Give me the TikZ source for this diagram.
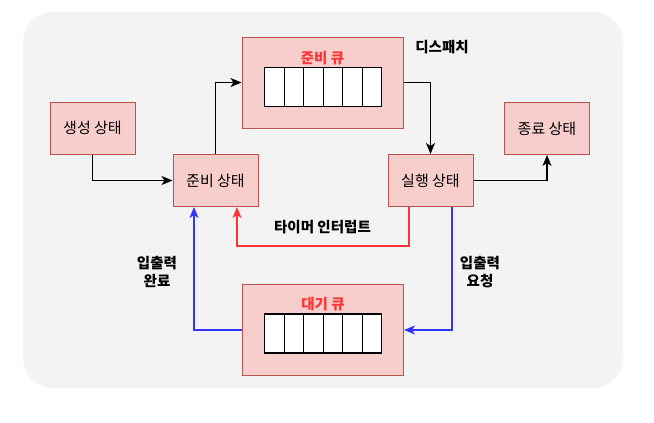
\documentclass[tikz,border=0pt]{standalone}
\usepackage{fontspec}
\newfontfamily\kr{Noto Sans CJK KR}
\usetikzlibrary{arrows.meta}
\definecolor{boxfill}{HTML}{F8CECC}
\definecolor{boxline}{HTML}{B85450}
\definecolor{redtxt}{HTML}{FF3333}
\definecolor{bluel}{HTML}{3333FF}
\definecolor{bgc}{HTML}{F3F3F3}
\begin{document}
\begin{tikzpicture}[x=1pt,y=-1pt,
  state/.style={draw=boxline, fill=boxfill, line width=1pt, minimum width=85pt, minimum height=52pt, inner sep=0pt, font=\kr\fontsize{15}{17}\selectfont},
  qbox/.style={draw=boxline, fill=boxfill, line width=1pt, minimum width=161pt, minimum height=91pt, inner sep=0pt},
  qlabel/.style={text=redtxt, font=\kr\bfseries\fontsize{14.5}{16}\selectfont, inner sep=0pt},
  cell/.style={draw=black, fill=white, line width=1.2pt, minimum width=19.5pt, minimum height=39pt, inner sep=0pt, anchor=west},
  blab/.style={font=\kr\bfseries\fontsize{14.5}{17.5}\selectfont, align=center, inner sep=0pt},
  conn/.style={line width=1.3pt, -{Stealth[length=11pt,width=9pt,inset=3pt]}},
]
\useasboundingbox (0,0) rectangle (654,423);
\fill[bgc, rounded corners=30pt] (23,12) rectangle (623,388);

% queues
\node[qbox] (rq) at (322.5,82.5) {};
\node[qlabel] (rql) at (322.5,58) {준비 큐};
\foreach \i in {0,...,5} { \node[cell] (rc\i) at ({264+19.5*\i},87) {}; }
\node[qbox] (wq) at (323,330) {};
\node[qlabel] (wql) at (323,304) {대기 큐};
\foreach \i in {0,...,5} { \node[cell] (wc\i) at ({264+19.5*\i},333.5) {}; }

% states
\node[state] (gen) at (92.5,128) {생성 상태};
\node[state] (ready) at (215.5,180.5) {준비 상태};
\node[state] (run) at (430.5,180.5) {실행 상태};
\node[state] (term) at (547,128.5) {종료 상태};

% labels
\node[blab] (disp) at (442,47) {디스패치};
\node[blab] (timer) at (322.5,227) {타이머 인터럽트};
\node[blab] (iodone) at (157,272) {입출력\\완료};
\node[blab] (ioreq) at (480,272) {입출력\\요청};

% connectors
\draw[conn] (gen.south) |- (ready.west);
\draw[conn] (ready.north) |- (rq.west);
\draw[conn] (rq.east) -| (run.north);
\draw[conn] (run.east) -| (term.south);
\draw[conn, draw=redtxt, -{Stealth[length=11pt,width=9pt,inset=3pt,fill=redtxt]}] ([xshift=-21.5pt]run.south) -- ++(0,39) -| ([xshift=21.5pt]ready.south);
\draw[conn, draw=bluel] ([xshift=21.5pt]run.south) |- (wq.east);
\draw[conn, draw=bluel] (wq.west) -| ([xshift=-21.5pt]ready.south);
\end{tikzpicture}
\end{document}
